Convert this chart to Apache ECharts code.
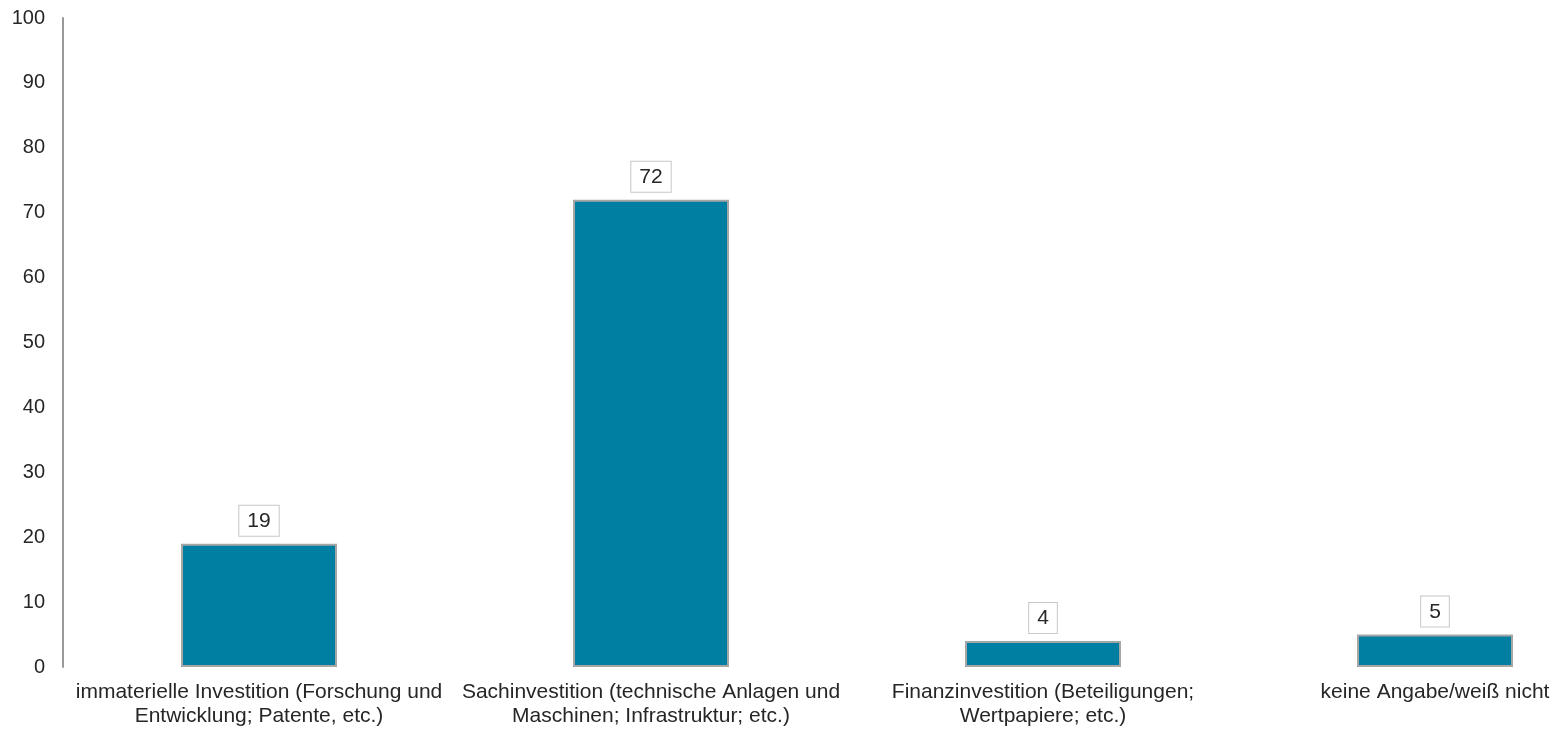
<!DOCTYPE html>
<html><head><meta charset="utf-8">
<script src="https://cdn.jsdelivr.net/npm/echarts@6/dist/echarts.min.js"></script>
<style>html,body{margin:0;padding:0;background:#fff}#c{width:1558px;height:729px}</style>
</head><body><div id="c"></div>
<script>
var categories = [
  'immaterielle Investition (Forschung und\nEntwicklung; Patente, etc.)',
  'Sachinvestition (technische Anlagen und\nMaschinen; Infrastruktur; etc.)',
  'Finanzinvestition (Beteiligungen;\nWertpapiere; etc.)',
  'keine Angabe/weiß nicht'
];
var values = [19, 72, 4, 5];
var yTicks = [0, 10, 20, 30, 40, 50, 60, 70, 80, 90, 100];

var chart = echarts.init(document.getElementById('c'));
chart.setOption({
  animation: false,
  grid: { left: 63, width: 1568, top: 18, height: 649, containLabel: false, outerBoundsMode: 'none' },
  xAxis: {
    type: 'category',
    data: categories,
    axisLine: { show: false },
    axisTick: { show: false },
    axisLabel: { interval: 0, color: '#262626', fontFamily: 'Liberation Sans, Arial, sans-serif', fontSize: 21, lineHeight: 24, margin: 13, hideOverlap: false }
  },
  yAxis: {
    type: 'value', min: 0, max: 100, interval: 10,
    axisLine: { show: true, lineStyle: { color: '#999999', width: 2 } },
    axisTick: { show: false },
    splitLine: { show: false },
    axisLabel: { color: '#262626', fontFamily: 'Liberation Sans, Arial, sans-serif', fontSize: 20, margin: 18,
      formatter: function (v) { return yTicks.indexOf(v) >= 0 ? String(v) : ''; } }
  },
  series: [{
    type: 'bar',
    data: values,
    barWidth: 156,
    itemStyle: { color: '#007FA3', borderColor: '#A6A6A6', borderWidth: 2 },
    label: {
      show: true, position: 'top', distance: 8,
      color: '#262626', fontFamily: 'Liberation Sans, Arial, sans-serif', fontSize: 21,
      backgroundColor: '#fff', borderColor: '#c8c8c8', borderWidth: 1,
      padding: [5, 8, 4, 8]
    }
  }]
});
</script></body></html>
